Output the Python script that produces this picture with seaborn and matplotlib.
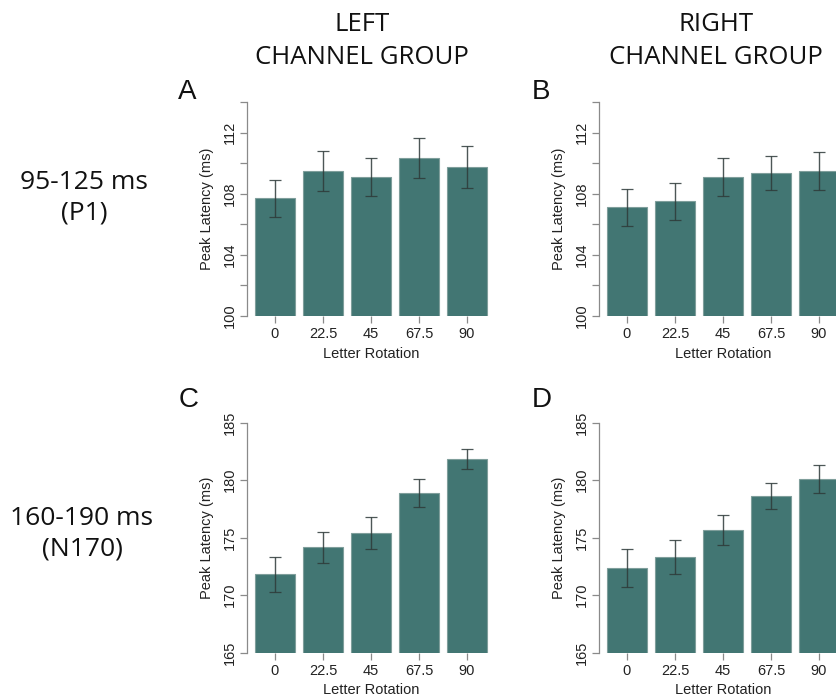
import numpy as np
import pandas as pd
import matplotlib
matplotlib.use("Agg")
import matplotlib.pyplot as plt
import seaborn as sns

# ---- data ----
rotations = ["0", "22.5", "45", "67.5", "90"]

p1_left_mean = [107.7, 109.5, 109.1, 110.35, 109.75]
p1_left_err = [1.2, 1.3, 1.25, 1.3, 1.35]
p1_right_mean = [107.1, 107.5, 109.1, 109.37, 109.48]
p1_right_err = [1.24, 1.2, 1.26, 1.13, 1.26]

n170_left_mean = [171.8, 174.17, 175.43, 178.9, 181.85]
n170_left_err = [1.5, 1.35, 1.37, 1.24, 0.84]
n170_right_mean = [172.4, 173.3, 175.67, 178.6, 180.1]
n170_right_err = [1.65, 1.5, 1.33, 1.13, 1.22]

col_titles = ["LEFT\nCHANNEL GROUP", "RIGHT\nCHANNEL GROUP"]
row_titles = ["95-125 ms\n(P1)", "160-190 ms\n(N170)"]
panel_letters = ["A", "B", "C", "D"]

sns.set_theme(style="white")
plt.rcParams["font.family"] = ["Liberation Sans", "DejaVu Sans"]

W, H = 837, 699
fig = plt.figure(figsize=(W / 100, H / 100), dpi=100)

BAR = "#427673"
GRAY = "#8a8a8a"


def ax_at(x0, ytop, w, h):
    return fig.add_axes([x0 / W, 1 - (ytop + h) / H, w / W, h / H])


def panel(ax, means, errs, ylim, yticks, ylabels):
    df = pd.DataFrame({"rot": rotations, "val": means})
    sns.barplot(data=df, x="rot", y="val", order=rotations, ax=ax,
                color=BAR, saturation=1, width=0.833, errorbar=None,
                edgecolor="#7f9e9b", linewidth=0.8)
    ax.errorbar(np.arange(len(means)), means, yerr=errs, fmt="none",
                ecolor="#2e3a39", elinewidth=1.0, capsize=4.5, capthick=0.9,
                alpha=0.85)
    ax.set_xlim(-0.583, len(means) - 1 + 0.583)
    ax.set_ylim(*ylim)
    ax.set_yticks(yticks)
    ax.set_yticklabels(ylabels, rotation=90, va="center", fontsize=10.5,
                       color="#222222")
    ax.set_xticks(np.arange(len(means)))
    ax.set_xticklabels(rotations, fontsize=10.5, color="#222222")
    for s in ["top", "right", "bottom"]:
        ax.spines[s].set_visible(False)
    ax.spines["left"].set_color(GRAY)
    ax.spines["left"].set_linewidth(0.9)
    ax.spines["left"].set_bounds(yticks[0], yticks[-1])
    ax.tick_params(axis="both", length=5, width=0.9, color=GRAY,
                   direction="out", left=True, bottom=True)
    ax.tick_params(axis="y", pad=2)
    ax.tick_params(axis="x", pad=3)
    ax.set_ylabel("Peak Latency (ms)", fontsize=10.5, color="#222222",
                  labelpad=7)
    ax.set_xlabel("Letter Rotation", fontsize=10.5, color="#222222",
                  labelpad=4)
    ax.patch.set_alpha(0)


yt_top = [100, 102, 104, 106, 108, 110, 112, 114]
yl_top = ["100", "", "104", "", "108", "", "112", ""]
yt_bot = [165, 170, 175, 180, 185]
yl_bot = [str(v) for v in yt_bot]

axA = ax_at(247, 102, 248, 214)
axB = ax_at(599, 102, 248, 214)
axC = ax_at(247, 422.7, 248, 230)
axD = ax_at(599, 422.7, 248, 230)

panel(axA, p1_left_mean, p1_left_err, (100, 114), yt_top, yl_top)
panel(axB, p1_right_mean, p1_right_err, (100, 114), yt_top, yl_top)
panel(axC, n170_left_mean, n170_left_err, (165, 185), yt_bot, yl_bot)
panel(axD, n170_right_mean, n170_right_err, (165, 185), yt_bot, yl_bot)

hdr = dict(family=["Open Sans", "DejaVu Sans"], color="#111111",
           ha="center", va="center")
fig.text(362 / W, 1 - 41 / H, col_titles[0], fontsize=18.5,
         linespacing=1.45, **hdr)
fig.text(716 / W, 1 - 41 / H, col_titles[1], fontsize=18.5,
         linespacing=1.45, **hdr)
fig.text(84 / W, 1 - 198 / H, row_titles[0], fontsize=19,
         linespacing=1.3, **hdr)
fig.text(82 / W, 1 - 534 / H, row_titles[1], fontsize=19,
         linespacing=1.3, **hdr)

let = dict(fontsize=20, color="#111111", ha="center", va="center")
fig.text(187 / W, 1 - 92 / H, panel_letters[0], **let)
fig.text(541 / W, 1 - 92 / H, panel_letters[1], **let)
fig.text(189 / W, 1 - 400 / H, panel_letters[2], **let)
fig.text(542 / W, 1 - 400 / H, panel_letters[3], **let)

fig.savefig("out.png", dpi=100, facecolor="white")
